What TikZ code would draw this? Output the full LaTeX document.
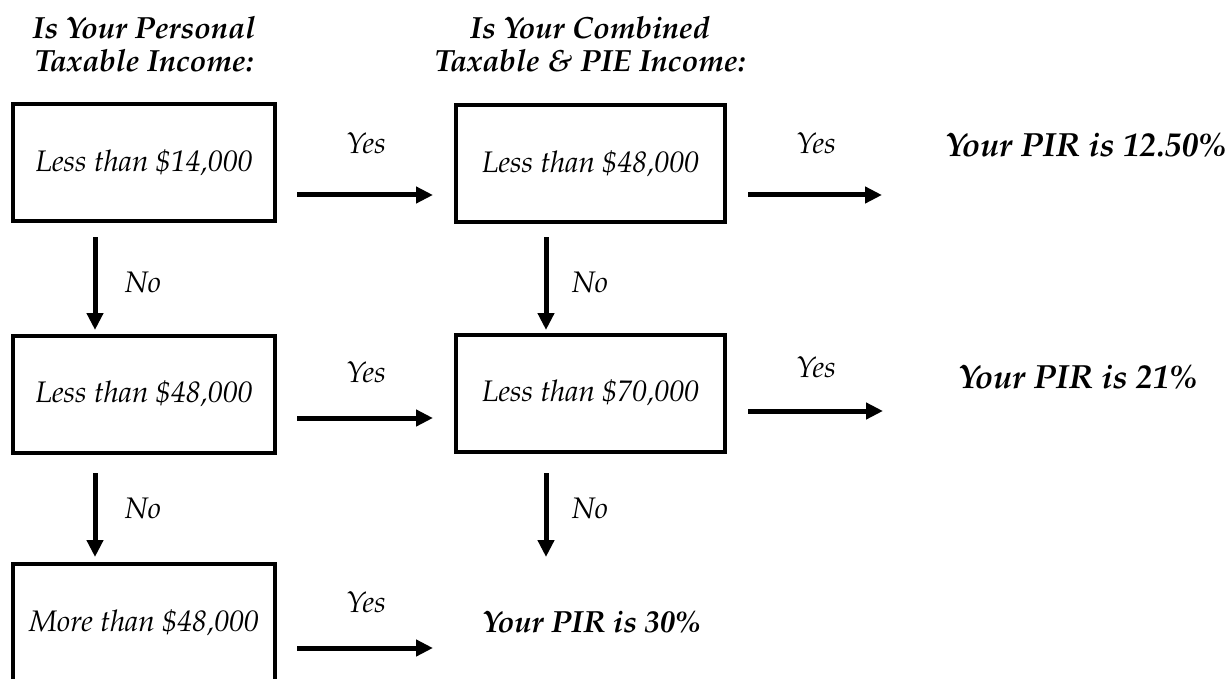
\documentclass[tikz,border=0pt]{standalone}
\usepackage[T1]{fontenc}
\usepackage{mathpazo}
\usetikzlibrary{arrows.meta}
\newcommand\myit{\fontsize{29.7}{33}\selectfont\itshape}
\newcommand\mybfit{\fontsize{30.6}{33}\selectfont\bfseries\itshape}
\newcommand\mybfbig{\fontsize{33.5}{36}\selectfont\bfseries\itshape}
\tikzset{
  box/.style={draw, line width=4pt, minimum width=262pt, minimum height=117pt, inner sep=0pt, font=\myit},
  lab/.style={font=\myit, inner sep=0pt},
  res/.style={font=\mybfit, anchor=west, inner sep=0pt},
  head/.style={font=\mybfit, align=center, inner sep=0pt},
  arr/.style={line width=5pt, -{Triangle[length=17pt,width=16pt]}}
}
\begin{document}
\begin{tikzpicture}[x=1pt,y=-1pt]
\useasboundingbox (0,0) rectangle (1228,679);
\clip (0,0) rectangle (1228,679);
% headers
\node[head] (h1) at (144,44) {Is Your Personal\\Taxable Income:};
\node[head] (h2) at (590,44) {Is Your Combined\\Taxable \& PIE Income:};
% boxes
\node[box] (b1) at (144,162.5) {Less than \$14,000};
\node[box, minimum width=269pt] (b2) at (590.5,163.5) {Less than \$48,000};
\node[box] (b3) at (144,394) {Less than \$48,000};
\node[box, minimum width=269pt] (b4) at (590.5,393) {Less than \$70,000};
\node[box] (b5) at (144,622.5) {More than \$48,000};
% results
\node[res, font=\mybfbig] (r1) at (945,145) {Your PIR is 12.50\%};
\node[res, font=\mybfbig] (r2) at (958,377) {Your PIR is 21\%};
\node[res] (r3) at (482,622) {Your PIR is 30\%};
% arrow end points
\coordinate (a1s) at (297,195); \coordinate (a1e) at (433,195);
\coordinate (a2s) at (748,195); \coordinate (a2e) at (882,195);
\coordinate (a3s) at (297,418); \coordinate (a3e) at (433,418);
\coordinate (a4s) at (748,411); \coordinate (a4e) at (883,411);
\coordinate (a5s) at (297,648); \coordinate (a5e) at (433,648);
\coordinate (v1s) at (95,237);  \coordinate (v1e) at (95,330);
\coordinate (v2s) at (546,237); \coordinate (v2e) at (546,330);
\coordinate (v3s) at (95,473);  \coordinate (v3e) at (95,557);
\coordinate (v4s) at (546,473); \coordinate (v4e) at (546,557);
% arrows
\draw[arr] (a1s) -- (a1e);
\draw[arr] (a2s) -- (a2e);
\draw[arr] (a3s) -- (a3e);
\draw[arr] (a4s) -- (a4e);
\draw[arr] (a5s) -- (a5e);
\draw[arr] (v1s) -- (v1e);
\draw[arr] (v2s) -- (v2e);
\draw[arr] (v3s) -- (v3e);
\draw[arr] (v4s) -- (v4e);
% labels
\node[lab] (y1) at (366,143) {Yes};
\node[lab] (y2) at (816,143) {Yes};
\node[lab] (y3) at (366,372) {Yes};
\node[lab] (y4) at (816,367) {Yes};
\node[lab] (y5) at (366,602) {Yes};
\node[lab] (n1) at (143,282) {No};
\node[lab] (n2) at (590,282) {No};
\node[lab] (n3) at (143,508) {No};
\node[lab] (n4) at (590,508) {No};
\end{tikzpicture}
\end{document}
